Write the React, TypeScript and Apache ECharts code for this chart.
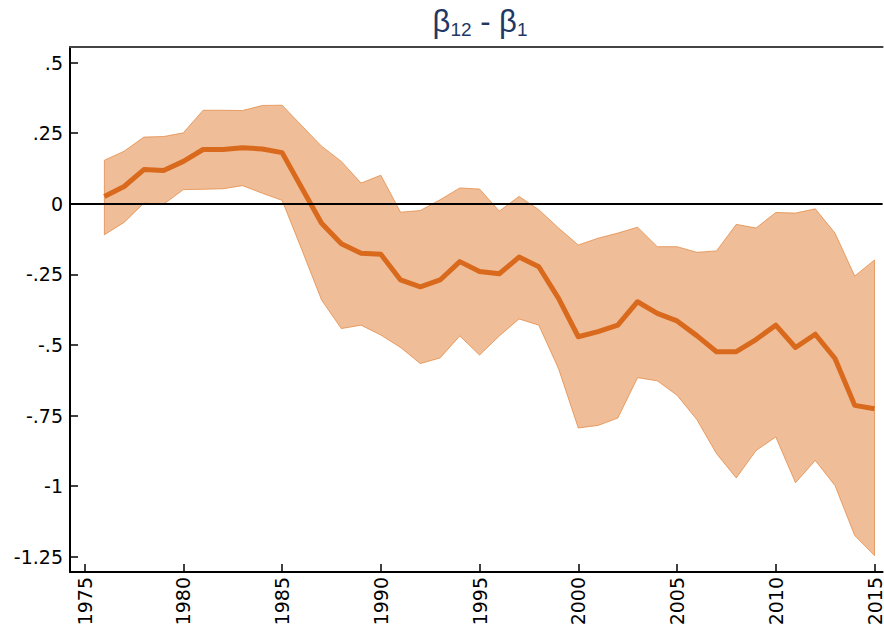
import React, { useEffect, useRef } from "react";
import * as echarts from "echarts";

const years = [
  1976, 1977, 1978, 1979, 1980, 1981, 1982, 1983, 1984, 1985,
  1986, 1987, 1988, 1989, 1990, 1991, 1992, 1993, 1994, 1995,
  1996, 1997, 1998, 1999, 2000, 2001, 2002, 2003, 2004, 2005,
  2006, 2007, 2008, 2009, 2010, 2011, 2012, 2013, 2014, 2015,
];

const estimate = [
  0.026, 0.061, 0.121, 0.118, 0.15, 0.192, 0.192, 0.198, 0.194, 0.181,
  0.056, -0.069, -0.142, -0.175, -0.179, -0.27, -0.294, -0.27, -0.205, -0.24,
  -0.248, -0.189, -0.223, -0.335, -0.471, -0.453, -0.43, -0.347, -0.388, -0.415,
  -0.467, -0.524, -0.524, -0.481, -0.43, -0.509, -0.462, -0.548, -0.714, -0.726,
];

const upper = [
  0.154, 0.186, 0.236, 0.238, 0.251, 0.331, 0.331, 0.33, 0.348, 0.349,
  0.276, 0.204, 0.15, 0.073, 0.101, -0.03, -0.024, 0.014, 0.056, 0.052,
  -0.026, 0.026, -0.021, -0.086, -0.146, -0.122, -0.104, -0.083, -0.152, -0.152,
  -0.172, -0.167, -0.073, -0.086, -0.031, -0.033, -0.018, -0.104, -0.256, -0.199,
];

const lower = [
  -0.11, -0.066, 0.002, -0.002, 0.05, 0.051, 0.053, 0.064, 0.037, 0.012,
  -0.163, -0.341, -0.442, -0.43, -0.465, -0.509, -0.566, -0.546, -0.468, -0.536,
  -0.468, -0.408, -0.43, -0.584, -0.794, -0.785, -0.759, -0.616, -0.627, -0.678,
  -0.764, -0.885, -0.971, -0.874, -0.826, -0.988, -0.909, -0.998, -1.175, -1.246,
];

const xTicks = [1975, 1980, 1985, 1990, 1995, 2000, 2005, 2010, 2015];
const yTicks = [-1.25, -1, -0.75, -0.5, -0.25, 0, 0.25, 0.5];

const X_MIN = 1974.26;
const X_MAX = 2015.41;
const Y_MIN = -1.304;
const Y_MAX = 0.555;

const fmtY = (v: number) => {
  if (v === 0) return "0";
  const s = String(Math.abs(v)).replace(/^0/, "");
  return (v < 0 ? "-" : "") + s;
};

export default function App() {
  const ref = useRef<HTMLDivElement>(null);
  useEffect(() => {
    if (!ref.current) return;
    const chart = echarts.init(ref.current, null, { renderer: "svg" });
    const labelFont = "'DejaVu Sans', sans-serif";
    const titleFont = "'Liberation Sans', Arial, sans-serif";
    chart.setOption({
      animation: false,
      backgroundColor: "#ffffff",
      graphic: [
        {
          type: "text",
          x: 480,
          y: 3,
          style: {
            text: "{b|β}{s|12}{b| - β}{s|1}",
            textAlign: "center",
            textVerticalAlign: "top",
            rich: {
              b: {
                fontSize: 31,
                lineHeight: 36,
                fontFamily: titleFont,
                fill: "#1f3864",
                color: "#1f3864",
              },
              s: {
                fontSize: 19,
                lineHeight: 21,
                verticalAlign: "bottom",
                fontFamily: titleFont,
                fill: "#1f3864",
                color: "#1f3864",
              },
            },
          },
        },
      ],
      grid: { left: 70, right: 0, top: 47, bottom: 62, containLabel: false },
      xAxis: [
        {
          type: "value",
          min: X_MIN,
          max: X_MAX,
          position: "bottom",
          axisLine: { show: true, onZero: false, lineStyle: { color: "#000", width: 2 } },
          axisTick: {
            show: true,
            inside: true,
            length: 8,
            customValues: xTicks,
            lineStyle: { color: "#000", width: 1.5 },
          },
          axisLabel: {
            customValues: xTicks,
            rotate: 90,
            margin: 5,
            fontSize: 19,
            fontFamily: labelFont,
            color: "#000",
            formatter: (v: number) => String(v),
          },
          splitLine: { show: false },
        },
        {
          type: "value",
          min: X_MIN,
          max: X_MAX,
          position: "top",
          axisLine: { show: true, onZero: false, lineStyle: { color: "#444", width: 2 } },
          axisTick: { show: false },
          axisLabel: { show: false },
          splitLine: { show: false },
        },
      ],
      yAxis: {
        type: "value",
        min: Y_MIN,
        max: Y_MAX,
        axisLine: { show: true, onZero: false, lineStyle: { color: "#000", width: 2 } },
        axisTick: {
          show: true,
          inside: true,
          length: 8,
          customValues: yTicks,
          lineStyle: { color: "#000", width: 1.5 },
        },
        axisLabel: {
          customValues: yTicks,
          margin: 7,
          fontSize: 19,
          fontFamily: labelFont,
          color: "#000",
          formatter: (v: number) => fmtY(v),
        },
        splitLine: { show: false },
      },
      series: [
        {
          type: "line",
          xAxisIndex: 0,
          yAxisIndex: 0,
          data: [],
          z: 1,
          silent: true,
          markLine: {
            silent: true,
            symbol: ["none", "none"],
            label: { show: false },
            lineStyle: { color: "#000", width: 2, type: "solid" },
            data: [{ yAxis: 0 }],
          },
        },
        {
          type: "custom",
          xAxisIndex: 0,
          yAxisIndex: 0,
          z: 2,
          silent: true,
          data: [[1995, 0]],
          renderItem: (params: any, api: any) => {
            if (params.dataIndex !== 0) return null;
            const top = years.map((y, i) => api.coord([y, upper[i]]));
            const bot = years.map((y, i) => api.coord([y, lower[i]])).reverse();
            return {
              type: "polygon",
              shape: { points: top.concat(bot) },
              style: {
                fill: "rgba(224,124,48,0.5)",
                stroke: "rgba(224,124,48,0.65)",
                lineWidth: 1,
              },
            };
          },
        },
        {
          type: "line",
          xAxisIndex: 0,
          yAxisIndex: 0,
          z: 3,
          symbol: "none",
          showSymbol: false,
          silent: true,
          data: years.map((y, i) => [y, estimate[i]]),
          lineStyle: { color: "#d9691c", width: 5, join: "round" },
        },
      ],
    });
    return () => chart.dispose();
  }, []);
  return (
    <div
      ref={ref}
      style={{ position: "fixed", left: 0, top: 0, width: 884, height: 634, background: "#fff" }}
    />
  );
}
